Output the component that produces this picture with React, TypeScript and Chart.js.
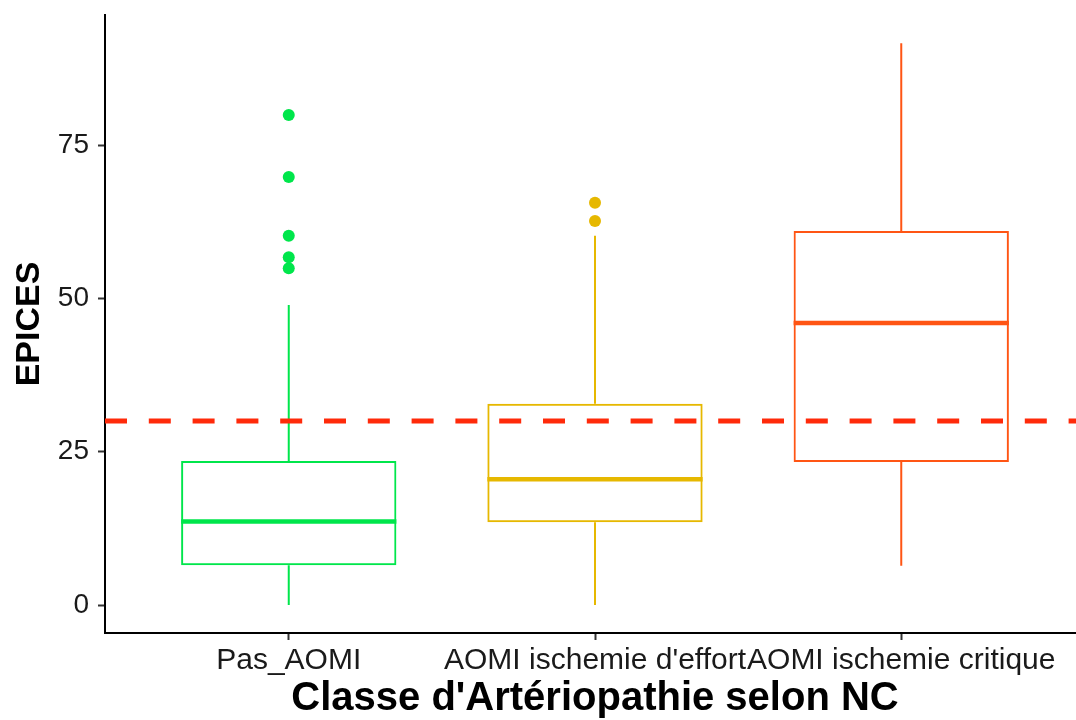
import React, { useEffect, useRef } from "react";
import { Chart, registerables } from "chart.js";
Chart.register(...registerables);

const categories = ["Pas_AOMI", "AOMI ischemie d'effort", "AOMI ischemie critique"];
const whiskerLow = [0, 0, 6.4];
const q1 = [6.5, 13.5, 23.3];
const medians = [13.6, 20.5, 46.0];
const q3 = [23.5, 32.8, 61.0];
const whiskerHigh = [48.9, 60.2, 91.6];
const outliersPas = [54.9, 56.7, 60.2, 69.8, 79.9];
const outliersEffort = [62.6, 65.6];
const outliersCritique: number[] = [];
const threshold = 30;
const yTicks = [0, 25, 50, 75];
const colors = ["#00E64B", "#E6B800", "#FF5514"];
const thresholdColor = "#FF2A0A";

const FONT = "'Liberation Sans', Arial, Helvetica, sans-serif";

const boxPlugin = {
  id: "boxExtras",
  afterDatasetDraw(chart: any, args: any) {
    if (args.index !== 0) return;
    const meta = chart.getDatasetMeta(0);
    const y = chart.scales.y;
    const ctx = chart.ctx;
    meta.data.forEach((bar: any, i: number) => {
      const { x, width } = bar.getProps(["x", "width"], true);
      ctx.save();
      ctx.strokeStyle = colors[i];
      ctx.lineWidth = 2;
      ctx.lineCap = "butt";
      ctx.beginPath();
      ctx.moveTo(x, y.getPixelForValue(q3[i]));
      ctx.lineTo(x, y.getPixelForValue(whiskerHigh[i]));
      ctx.moveTo(x, y.getPixelForValue(q1[i]));
      ctx.lineTo(x, y.getPixelForValue(whiskerLow[i]));
      ctx.stroke();
      ctx.lineWidth = 4.5;
      ctx.beginPath();
      const ym = y.getPixelForValue(medians[i]);
      ctx.moveTo(x - width / 2, ym);
      ctx.lineTo(x + width / 2, ym);
      ctx.stroke();
      ctx.restore();
    });
  },
};

export default function App() {
  const ref = useRef<HTMLCanvasElement>(null);
  useEffect(() => {
    const outlierGroups = [outliersPas, outliersEffort, outliersCritique];
    const outlierData: any[] = [];
    const outlierColors: string[] = [];
    outlierGroups.forEach((g, i) =>
      g.forEach((v) => {
        outlierData.push({ x: i + 1, y: v });
        outlierColors.push(colors[i]);
      })
    );
    const chart = new Chart(ref.current!, {
      type: "scatter",
      data: {
        datasets: [
          {
            type: "bar",
            data: categories.map((_, i) => ({ x: i + 1, y: [q1[i], q3[i]] })) as any,
            backgroundColor: "rgba(255,255,255,0)",
            borderColor: colors,
            borderWidth: 2,
            borderSkipped: false,
            barPercentage: 0.703,
            categoryPercentage: 1,
            order: 3,
          } as any,
          {
            type: "scatter",
            data: outlierData,
            pointBackgroundColor: outlierColors,
            pointBorderWidth: 0,
            pointRadius: 6,
            order: 2,
          } as any,
          {
            type: "line",
            data: [
              { x: 0.4, y: threshold },
              { x: 3.6, y: threshold },
            ],
            showLine: true,
            borderColor: thresholdColor,
            borderWidth: 5,
            borderDash: [22, 21.8],
            pointRadius: 0,
            order: 1,
          } as any,
        ],
      },
      options: {
        animation: false,
        responsive: false,
        devicePixelRatio: 1,
        layout: { padding: { top: 15, right: 0, left: 0, bottom: 0 } },
        plugins: { legend: { display: false }, tooltip: { enabled: false } },
        scales: {
          x: {
            type: "linear",
            min: 0.4,
            max: 3.6,
            offset: false,
            grid: { display: true, offset: false, drawOnChartArea: false, drawTicks: true, tickLength: 7, tickColor: "#333", tickWidth: 2 },
            border: { display: true, color: "#000", width: 2 },
            afterBuildTicks: (s: any) => {
              s.ticks = categories.map((_, i) => ({ value: i + 1 }));
            },
            afterFit: (s: any) => {
              s.height = 87;
              s.paddingLeft = 0;
              s.paddingRight = 0;
            },
            ticks: {
              autoSkip: false,
              maxRotation: 0,
              padding: 6,
              color: "#1a1a1a",
              font: { family: FONT, size: 30, lineHeight: 1 },
              callback: (v: any) => categories[Math.round(v) - 1] ?? "",
            },
            title: {
              display: true,
              text: "Classe d'Artériopathie selon NC",
              color: "#000",
              font: { family: FONT, size: 40, weight: "bold", lineHeight: 1 },
              padding: { top: 0, bottom: 1.5 },
            },
          },
          y: {
            type: "linear",
            min: -4.565,
            max: 96.2,
            grid: { display: true, drawOnChartArea: false, drawTicks: true, tickLength: 7, tickColor: "#333", tickWidth: 2 },
            border: { display: true, color: "#000", width: 2 },
            afterBuildTicks: (s: any) => {
              s.ticks = yTicks.map((v) => ({ value: v }));
            },
            afterFit: (s: any) => {
              s.width = 105;
              s.paddingTop = 0;
              s.paddingBottom = 0;
            },
            ticks: {
              padding: 9,
              color: "#1a1a1a",
              font: { family: FONT, size: 28, lineHeight: 1 },
            },
            title: {
              display: true,
              text: "EPICES",
              color: "#000",
              font: { family: FONT, size: 34, weight: "bold", lineHeight: 1 },
              padding: { top: 13, bottom: 0 },
            },
          },
        },
      } as any,
      plugins: [boxPlugin],
    });
    return () => chart.destroy();
  }, []);
  return (
    <div style={{ position: "absolute", left: 0, top: 0, width: 1076, height: 720, overflow: "hidden", background: "#fff" }}>
      <canvas ref={ref} width={1091} height={720} style={{ display: "block", width: 1091, height: 720 }} />
    </div>
  );
}
